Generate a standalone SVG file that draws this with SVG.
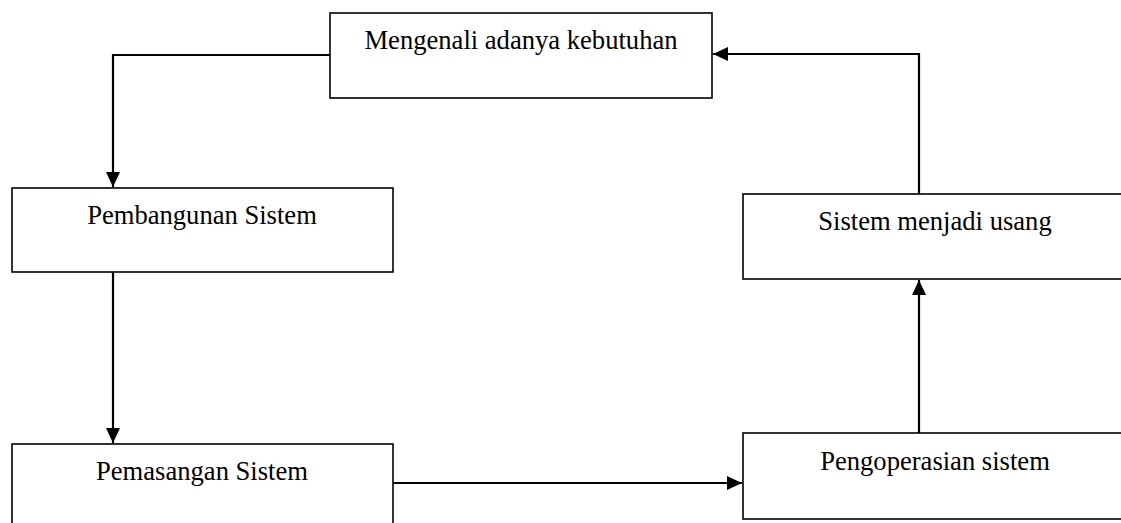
<svg xmlns="http://www.w3.org/2000/svg" width="1121" height="523" viewBox="0 0 1121 523">
  <style>
    .box { fill: #ffffff; stroke: #000000; stroke-width: 1.6; }
    .label { font-family: "Liberation Serif", "Times New Roman", serif; font-size: 26.6px; fill: #000000; text-anchor: middle; }
    .conn { fill: none; stroke: #000000; stroke-width: 2.2; }
  </style>
  <defs>
    <marker id="arrow" markerUnits="userSpaceOnUse" markerWidth="15" markerHeight="14" refX="15" refY="7" orient="auto">
      <path d="M0,0 L15,7 L0,14 z" fill="#000000"/>
    </marker>
  </defs>
  <rect width="1121" height="523" fill="#ffffff"/>

  <g id="connectors">
    <path class="conn" d="M330,55 L113,55 L113,187" marker-end="url(#arrow)"/>
    <path class="conn" d="M113,272 L113,443" marker-end="url(#arrow)"/>
    <path class="conn" d="M393,483 L742,483" marker-end="url(#arrow)"/>
    <path class="conn" d="M919,433 L919,280" marker-end="url(#arrow)"/>
    <path class="conn" d="M919,194 L919,54 L713,54" marker-end="url(#arrow)"/>
  </g>

  <g id="node-mengenali">
    <rect class="box" x="330" y="13" width="382" height="85"/>
    <text class="label" x="521" y="49">Mengenali adanya kebutuhan</text>
  </g>
  <g id="node-pembangunan">
    <rect class="box" x="12" y="188" width="381" height="84"/>
    <text class="label" x="202" y="224">Pembangunan Sistem</text>
  </g>
  <g id="node-pemasangan">
    <rect class="box" x="12" y="444" width="381" height="90"/>
    <text class="label" x="202" y="480">Pemasangan Sistem</text>
  </g>
  <g id="node-usang">
    <rect class="box" x="743" y="194" width="384" height="85"/>
    <text class="label" x="935" y="230">Sistem menjadi usang</text>
  </g>
  <g id="node-pengoperasian">
    <rect class="box" x="743" y="433" width="384" height="86"/>
    <text class="label" x="935" y="470">Pengoperasian sistem</text>
  </g>
</svg>
